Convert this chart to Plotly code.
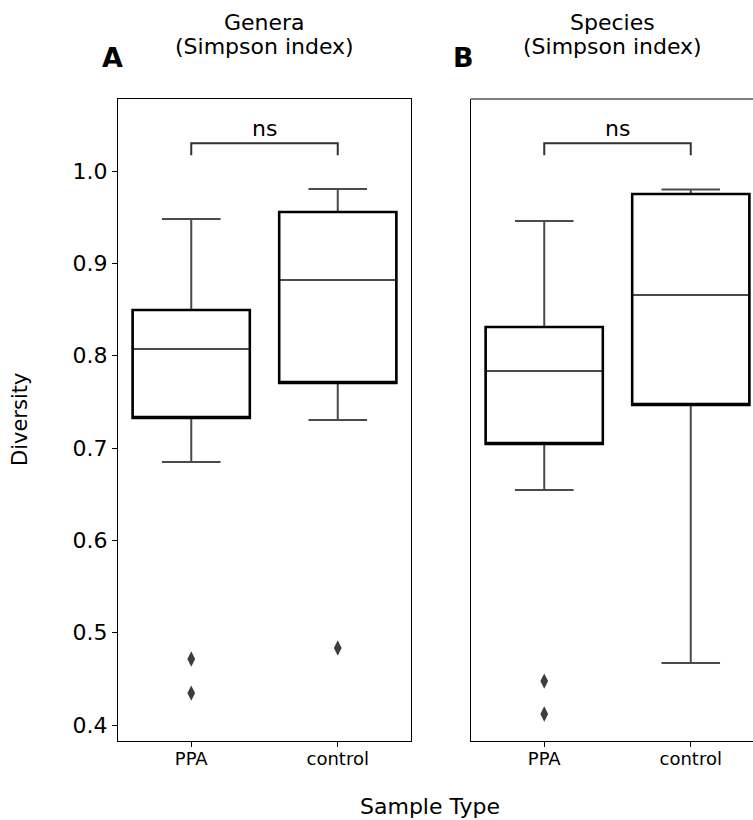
import plotly.graph_objects as go

categories = ["PPA", "control"]

# Panel A: Genera (Simpson index)
genera_q1 = [0.7325, 0.7704]
genera_median = [0.8072, 0.8820]
genera_q3 = [0.8495, 0.9556]
genera_low = [0.6848, 0.7303]
genera_high = [0.9480, 0.9805]
genera_outliers_ppa = [0.4715, 0.4346]
genera_outliers_control = [0.4834]

# Panel B: Species (Simpson index)
species_q1 = [0.7043, 0.7466]
species_median = [0.7834, 0.8657]
species_q3 = [0.8310, 0.9750]
species_low = [0.6545, 0.4671]
species_high = [0.9458, 0.9800]
species_outliers_ppa = [0.4476, 0.4119]
species_outliers_control = []

y_ticks = [0.4, 0.5, 0.6, 0.7, 0.8, 0.9, 1.0]
y_range = [0.3827, 1.078]
bracket_top = 1.030
bracket_leg = 1.017

W, H = 753, 820
L, R, T, B = 118, 0, 99, 79
PW = W - L - R
PH = H - T - B

fig = go.Figure()

GRAY = "#4a4a4a"
FONT = "DejaVu Sans"

def add_panel(xa, ya, q1, med, q3, lo, hi, out_ppa, out_ctrl):
    xs = [0, 1]
    for i in range(2):
        fig.add_trace(go.Box(
            x=[xs[i]], q1=[q1[i]], median=[med[i]], q3=[q3[i]],
            lowerfence=[lo[i]], upperfence=[hi[i]],
            width=0.8, whiskerwidth=0.5, fillcolor="white",
            line=dict(color=GRAY, width=2), boxpoints=False,
            xaxis=xa, yaxis=ya, showlegend=False, hoverinfo="skip"))
        fig.add_trace(go.Box(
            x=[xs[i]], q1=[q1[i]], median=[q1[i]], q3=[q3[i]],
            lowerfence=[q1[i]], upperfence=[q3[i]],
            width=0.8, whiskerwidth=0.0, fillcolor="rgba(0,0,0,0)",
            line=dict(color="black", width=2.5), boxpoints=False,
            xaxis=xa, yaxis=ya, showlegend=False, hoverinfo="skip"))
    ox = [0] * len(out_ppa) + [1] * len(out_ctrl)
    oy = list(out_ppa) + list(out_ctrl)
    fig.add_trace(go.Scatter(
        x=ox, y=oy, mode="markers",
        marker=dict(symbol="diamond-tall", size=11, color="#3d3d3d"),
        xaxis=xa, yaxis=ya, showlegend=False, hoverinfo="skip"))
    fig.add_trace(go.Scatter(
        x=[0, 0, 1, 1], y=[bracket_leg, bracket_top, bracket_top, bracket_leg],
        mode="lines", line=dict(color="#333333", width=2),
        xaxis=xa, yaxis=ya, showlegend=False, hoverinfo="skip"))

add_panel("x", "y", genera_q1, genera_median, genera_q3, genera_low, genera_high,
          genera_outliers_ppa, genera_outliers_control)
add_panel("x2", "y2", species_q1, species_median, species_q3, species_low, species_high,
          species_outliers_ppa, species_outliers_control)

dA = [0, 293 / PW]
dB = [(471 - L) / PW, 1.0]
b_visible = (753 - 471) / 293.0
b_right = -0.5 + 2.0 * b_visible

xcommon = dict(tickvals=[0, 1], ticktext=categories, showgrid=False, zeroline=False,
               showline=True, linecolor="black", linewidth=1.2, ticks="outside",
               ticklen=5, tickcolor="black", ticklabelstandoff=-4,
               tickfont=dict(family=FONT, size=18, color="black"))

fig.update_layout(
    width=W, height=H,
    margin=dict(l=L, r=R, t=T, b=B),
    plot_bgcolor="white", paper_bgcolor="white",
    boxmode="overlay",
    font=dict(family=FONT, color="black"),
    xaxis=dict(domain=dA, range=[-0.5, 1.5], mirror=True, **xcommon),
    xaxis2=dict(domain=dB, range=[-0.5, b_right], anchor="y2", **xcommon),
    yaxis=dict(range=y_range, tickvals=y_ticks, ticktext=[f"{v:.1f}" for v in y_ticks],
               showgrid=False, zeroline=False, showline=True, linecolor="black",
               linewidth=1.2, mirror=True, ticks="outside", ticklen=5, tickcolor="black",
               tickfont=dict(family=FONT, size=22, color="black")),
    yaxis2=dict(range=y_range, anchor="x2", showgrid=False, zeroline=False,
                showline=True, linecolor="black", linewidth=1.2,
                showticklabels=False, ticks=""),
)

# top border for panel B (right side runs off the canvas)
fig.add_shape(type="line", xref="x2 domain", yref="y2 domain", x0=0, x1=1, y0=1, y1=1,
              line=dict(color="black", width=1.2))

def py(pix):
    return 1 + (T - pix) / PH

annotations = [
    dict(text="Genera", x=0.5, xref="x domain", y=py(22), yref="paper",
         showarrow=False, font=dict(size=22), yanchor="middle", xanchor="center"),
    dict(text="(Simpson index)", x=0.5, xref="x domain", y=py(46), yref="paper",
         showarrow=False, font=dict(size=22), yanchor="middle", xanchor="center"),
    dict(text="Species", x=0.5, xref="x2 domain", y=py(22), yref="paper",
         showarrow=False, font=dict(size=22), yanchor="middle", xanchor="center"),
    dict(text="(Simpson index)", x=0.5, xref="x2 domain", y=py(46), yref="paper",
         showarrow=False, font=dict(size=22), yanchor="middle", xanchor="center"),
    dict(text="<b>A</b>", x=(112 - L) / PW, xref="paper", y=py(57), yref="paper",
         showarrow=False, font=dict(size=27), yanchor="middle", xanchor="center"),
    dict(text="<b>B</b>", x=(463 - L) / PW, xref="paper", y=py(57), yref="paper",
         showarrow=False, font=dict(size=27), yanchor="middle", xanchor="center"),
    dict(text="ns", x=0.5, xref="x", y=bracket_top, yref="y", yanchor="bottom",
         showarrow=False, font=dict(size=22)),
    dict(text="ns", x=0.5, xref="x2", y=bracket_top, yref="y2", yanchor="bottom",
         showarrow=False, font=dict(size=22)),
    dict(text="Sample Type", x=(430 - L) / PW, xref="paper", y=py(806), yref="paper",
         showarrow=False, font=dict(size=22), yanchor="middle", xanchor="center"),
    dict(text="Diversity", x=-(118 - 20) / PW, xref="paper", y=0.5, yref="paper",
         showarrow=False, font=dict(size=21), textangle=-90, yanchor="middle", xanchor="center"),
]
fig.update_layout(annotations=annotations)

fig.write_html("out.html", config={"displayModeBar": False},
               post_script="document.body.style.margin='0';document.body.style.overflow='hidden';")
